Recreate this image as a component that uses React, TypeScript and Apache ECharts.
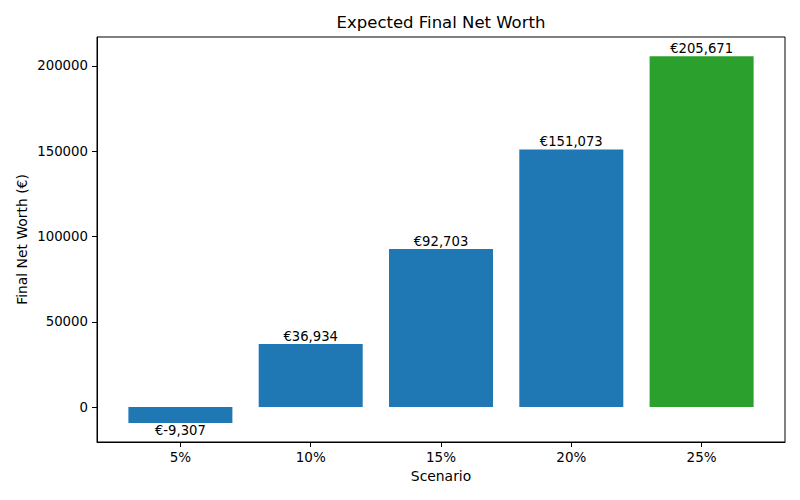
import React, { useRef, useEffect } from 'react';
import * as echarts from 'echarts';

const scenarios = ['5%', '10%', '15%', '20%', '25%'];
const netWorth = [-9307, 36934, 92703, 151073, 205671];
const barColors = ['#1f77b4', '#1f77b4', '#1f77b4', '#1f77b4', '#2ca02c'];
const yTicks = [0, 50000, 100000, 150000, 200000];
const xTicks = [0, 1, 2, 3, 4];

const FONT = 'DejaVu Sans';

const App: React.FC = () => {
  const chartRef = useRef<HTMLDivElement>(null);

  useEffect(() => {
    if (!chartRef.current) return;
    const chart = echarts.init(chartRef.current, undefined, { renderer: 'svg' });

    const option: any = {
      animation: false,
      backgroundColor: '#ffffff',
      textStyle: { fontFamily: FONT },
      title: {
        text: 'Expected Final Net Worth',
        left: 441,
        top: 14,
        padding: 0,
        textAlign: 'center',
        textStyle: { fontFamily: FONT, fontSize: 16.5, fontWeight: 'normal', color: '#000' },
      },
      grid: {
        left: 97,
        right: 15,
        top: 37,
        bottom: 58,
        show: true,
        borderColor: '#000',
        borderWidth: 1,
        backgroundColor: 'transparent',
      },
      xAxis: {
        type: 'value',
        min: -0.64,
        max: 4.64,
        name: 'Scenario',
        nameLocation: 'middle',
        nameGap: 27,
        nameMoveOverlap: false,
        nameTextStyle: { fontFamily: FONT, fontSize: 13.9, color: '#000' },
        axisLine: { show: true, onZero: false, lineStyle: { color: '#000', width: 1 } },
        axisTick: { show: true, customValues: xTicks, length: 5, lineStyle: { color: '#000' } },
        axisLabel: {
          customValues: xTicks,
          margin: 8,
          fontFamily: FONT,
          fontSize: 13.5,
          color: '#000',
          formatter: (v: number) => scenarios[Math.round(v)] ?? '',
        },
        splitLine: { show: false },
      },
      yAxis: {
        type: 'value',
        min: -20500,
        max: 217000,
        name: 'Final Net Worth (€)',
        nameLocation: 'middle',
        nameGap: 68,
        nameMoveOverlap: false,
        nameTextStyle: { fontFamily: FONT, fontSize: 13.9, color: '#000' },
        axisLine: { show: true, onZero: false, lineStyle: { color: '#000', width: 1 } },
        axisTick: { show: true, customValues: yTicks, length: 5, lineStyle: { color: '#000' } },
        axisLabel: {
          customValues: yTicks,
          margin: 9,
          fontFamily: FONT,
          fontSize: 13.3,
          color: '#000',
          formatter: (v: number) => String(v),
        },
        splitLine: { show: false },
      },
      series: [
        {
          type: 'bar',
          barWidth: 104,
          data: netWorth.map((v, i) => ({
            value: [i, v],
            itemStyle: { color: barColors[i] },
            label: { position: v < 0 ? 'bottom' : 'top' },
          })),
          label: {
            show: true,
            distance: 1,
            fontFamily: FONT,
            fontSize: 13.2,
            color: '#000',
            formatter: (p: any) => '€' + p.value[1].toLocaleString('en-US'),
          },
        },
      ],
    };

    chart.setOption(option);
    return () => {
      chart.dispose();
    };
  }, []);

  return (
    <div
      ref={chartRef}
      style={{ position: 'absolute', left: 0, top: 0, width: 800, height: 500 }}
    />
  );
};

export default App;
